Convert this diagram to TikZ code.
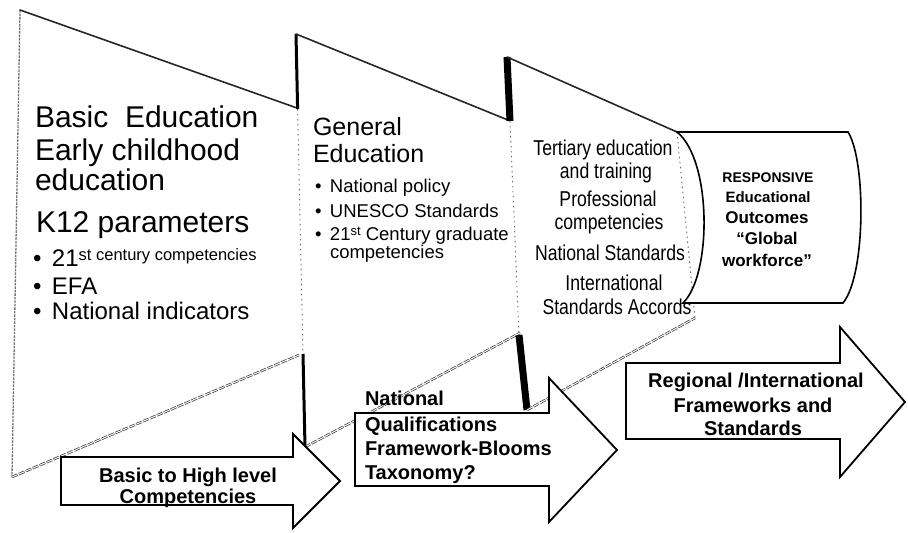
\documentclass[tikz,border=0pt]{standalone}
\usepackage{fontspec}
\setmainfont{Liberation Sans}
\newfontfamily\narrowfont[FakeStretch=0.82]{Liberation Sans}
\begin{document}
\begin{tikzpicture}[x=1pt,y=-1pt,
  topedge/.style={line width=1.6pt, black!85, line cap=round},
  botedge/.style={black!80, line width=0.7pt, double=white, double distance=1pt, dash pattern=on 6pt off 1.5pt},
  faintedge/.style={black!60, line width=0.9pt, dash pattern=on 1.5pt off 3.5pt},
  leftfaint/.style={black!55, line width=1.3pt, dash pattern=on 2.5pt off 1pt},
  bartwo/.style={line width=3pt, black},
  barthree/.style={line width=7pt, black},
  bigarrow/.style={draw=black, line width=1.8pt, fill=white, miter limit=10},
  txt/.style={inner sep=0pt, outer sep=0pt},
  hone/.style={txt, anchor=base west, font=\fontsize{30}{30}\selectfont},
  bone/.style={txt, anchor=base west, font=\fontsize{24}{24}\selectfont},
  htwo/.style={txt, anchor=base west, font=\fontsize{25}{25}\selectfont},
  btwo/.style={txt, anchor=base west, font=\fontsize{18.5}{18.5}\selectfont},
  tthree/.style={txt, anchor=base, font=\narrowfont\fontsize{21.5}{21.5}\selectfont},
  arrtxt/.style={txt, font=\bfseries\fontsize{20}{20}\selectfont}
]
\useasboundingbox (0,0) rectangle (908,533);

% ---------- panel 1 ----------
\coordinate (p1a) at (20,10);
\coordinate (p1b) at (297,108);
\coordinate (p1c) at (299,355);
\coordinate (p1d) at (12,477);
\draw[leftfaint] (p1a) -- (p1d);
\draw[topedge] (p1a) -- (p1b);
\draw[botedge] (p1d) -- (p1c);

% ---------- panel 2 ----------
\coordinate (p2a) at (296,34);
\coordinate (p2b) at (508,120);
\coordinate (p2c) at (520,333);
\coordinate (p2d) at (305,447);
\coordinate (p2l1) at (297.6,109);
\coordinate (p2l2) at (303,354);
\draw[bartwo] (p2a) -- (p2l1);
\draw[faintedge] (p2l1) -- (p2l2);
\draw[bartwo] (p2l2) -- (p2d);
\draw[topedge] (p2a) -- (p2b);
\draw[botedge] (p2d) -- (p2c);

% ---------- panel 3 ----------
\coordinate (p3a) at (507,57);
\coordinate (p3b) at (677,132);
\coordinate (p3c) at (695,318);
\coordinate (p3d) at (527,410);
\coordinate (p3l1) at (510,121);
\coordinate (p3l2) at (519,335);
\draw[barthree] (p3a) -- (p3l1);
\draw[faintedge] (p3l1) -- (p3l2);
\draw[barthree] (p3l2) -- (p3d);
\draw[topedge] (p3a) -- (p3b);
\draw[botedge] (p3d) -- (p3c);
\draw[faintedge] (p3b) -- (p3c);

% ---------- cylinder ----------
\coordinate (cya) at (677,132);
\coordinate (cyb) at (848,132);
\coordinate (cyc) at (843,303);
\coordinate (cyd) at (683,303);
\draw[line width=1.6pt, fill=white] (cya) -- (cyb) .. controls (866,160) and (866,275) .. (cyc) -- (cyd) .. controls (712,275) and (712,160) .. (cya) -- cycle;

% ---------- arrows ----------
\draw[bigarrow] (61,457) -- (293,457) -- (293,434) -- (340,481) -- (293,528) -- (293,505) -- (61,505) -- cycle;
\draw[bigarrow] (355,413) -- (549,413) -- (549,378) -- (617,450) -- (549,522) -- (549,486) -- (355,486) -- cycle;
\draw[bigarrow] (626,363) -- (840,363) -- (840,327) -- (905,402) -- (840,477) -- (840,439) -- (626,439) -- cycle;

% ---------- panel 1 text ----------
\node[hone] (a1) at (35,127) {Basic~~Education};
\node[hone] (a2) at (35,160) {Early childhood};
\node[hone] (a3) at (35,190) {education};
\node[hone] (a4) at (36,232) {K12 parameters};
\node[bone] (a5) at (33,266) {\makebox[19pt][l]{•}21\raisebox{6pt}{\fontsize{16.5}{16.5}\selectfont st century competencies}};
\node[bone] (a6) at (33,294) {\makebox[19pt][l]{•}EFA};
\node[bone] (a7) at (33,319) {\makebox[19pt][l]{•}National indicators};

% ---------- panel 2 text ----------
\node[htwo] (b1) at (313,135) {General};
\node[htwo] (b2) at (313,162) {Education};
\node[btwo] (b3) at (315,192) {\makebox[15pt][l]{•}National policy};
\node[btwo] (b4) at (315,217) {\makebox[15pt][l]{•}UNESCO Standards};
\node[btwo] (b5) at (315,240) {\makebox[15pt][l]{•}21\raisebox{5pt}{\fontsize{13}{13}\selectfont st} Century graduate};
\node[btwo] (b6) at (330,258) {competencies};

% ---------- panel 3 text ----------
\node[tthree] (c1) at (603,155) {Tertiary education};
\node[tthree] (c2) at (606,178) {and training};
\node[tthree] (c3) at (608,206) {Professional};
\node[tthree] (c4) at (609,229) {competencies};
\node[tthree] (c5) at (610,260) {National Standards};
\node[tthree] (c6) at (614,290) {International};
\node[tthree] (c7) at (617,314) {Standards Accords};

% ---------- cylinder text ----------
\node[txt, anchor=base, font=\bfseries\fontsize{14}{14}\selectfont] (d1) at (768,182) {RESPONSIVE};
\node[txt, anchor=base, font=\bfseries\fontsize{15}{15}\selectfont] (d2) at (768,202) {Educational};
\node[txt, anchor=base, font=\bfseries\fontsize{17}{17}\selectfont] (d3) at (767,223) {Outcomes};
\node[txt, anchor=base, font=\bfseries\fontsize{17}{17}\selectfont] (d4) at (767,244) {“Global};
\node[txt, anchor=base, font=\bfseries\fontsize{17}{17}\selectfont] (d5) at (767,266) {workforce”};

% ---------- arrow text ----------
\node[arrtxt, anchor=base] (e1) at (188,482) {Basic to High level};
\node[arrtxt, anchor=base] (e2) at (188,503) {Competencies};
\node[arrtxt, anchor=base west] (f1) at (365,405) {National};
\node[arrtxt, anchor=base west] (f2) at (365,431) {Qualifications};
\node[arrtxt, anchor=base west] (f3) at (365,455) {Framework-Blooms};
\node[arrtxt, anchor=base west] (f4) at (365,479) {Taxonomy?};
\node[arrtxt, anchor=base] (g1) at (756,387) {Regional /International};
\node[arrtxt, anchor=base] (g2) at (753,412) {Frameworks and};
\node[arrtxt, anchor=base] (g3) at (753,435) {Standards};
\end{tikzpicture}
\end{document}
